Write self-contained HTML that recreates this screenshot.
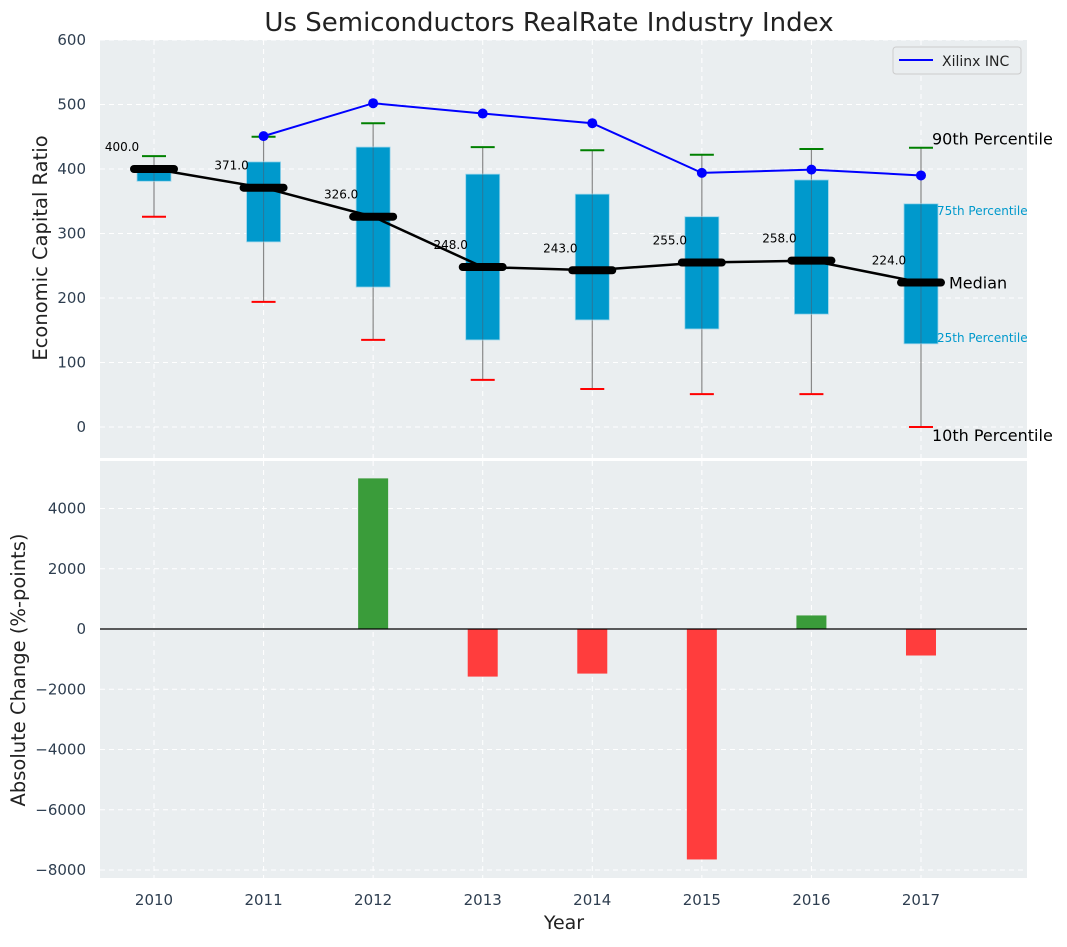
<!DOCTYPE html>
<html><head><meta charset="utf-8">
<style>
body{margin:0;background:#fff;font-family:"Liberation Sans","DejaVu Sans",sans-serif;}
svg text{font-family:"DejaVu Sans","Liberation Sans",sans-serif;}
</style></head>
<body>
<svg id="chart" width="1067" height="942" xmlns="http://www.w3.org/2000/svg"></svg>
<script>
const years = [2010,2011,2012,2013,2014,2015,2016,2017];
const p10 = [326,194,135,73,59,51,51,0];
const p25 = [381,287,217,135,166,152,175,129];
const medians = [400,371,326,248,243,255,258,224];
const p75 = [405,411,434,392,361,326,383,346];
const p90 = [420,450,471,434,429,422,431,433];
const xilinxYears = [2011,2012,2013,2014,2015,2016,2017];
const xilinx = [451,502,486,471,394,399,390];
const changes = [0,0,5000,-1580,-1480,-7650,450,-880];
const topTicks = [0,100,200,300,400,500,600];
const botTicks = [-8000,-6000,-4000,-2000,0,2000,4000];

const NS="http://www.w3.org/2000/svg";
const svg=document.getElementById('chart');
function el(tag,attrs,parent){const e=document.createElementNS(NS,tag);for(const k in attrs)e.setAttribute(k,attrs[k]);(parent||svg).appendChild(e);return e;}
const L=100,R=1027;
const xs=y=>154+(y-2010)*109.57;
const yTop=v=>427-v*0.645;
const yBot=v=>629-v*0.030125;

let bg=el('rect',{x:L,y:40,width:R-L,height:418,fill:'#eaeef0'});

let bg2=el('rect',{x:L,y:461,width:R-L,height:417,fill:'#eaeef0'});


years.forEach(y=>{
  el('line',{x1:xs(y),x2:xs(y),y1:40,y2:458,stroke:'#fff','stroke-dasharray':'5,4','stroke-width':1});
  el('line',{x1:xs(y),x2:xs(y),y1:461,y2:878,stroke:'#fff','stroke-dasharray':'5,4','stroke-width':1});
  let t=el('text',{x:xs(y),y:905,'text-anchor':'middle','font-size':15,fill:'#2e3e50'});t.textContent=y;
  
});
topTicks.forEach(v=>{
  el('line',{x1:L,x2:R,y1:yTop(v),y2:yTop(v),stroke:'#fff','stroke-dasharray':'5,4'});
  let t=el('text',{x:86,y:yTop(v)+5,'text-anchor':'end','font-size':15,fill:'#2e3e50'});t.textContent=v;
  
});
botTicks.forEach(v=>{
  el('line',{x1:L,x2:R,y1:yBot(v),y2:yBot(v),stroke:'#fff','stroke-dasharray':'5,4'});
  let t=el('text',{x:86,y:yBot(v)+5,'text-anchor':'end','font-size':15,fill:'#2e3e50'});t.textContent=v<0?'\u2212'+(-v):v;
  
});

years.forEach((y,i)=>{
  const x=xs(y);
  let w=el('line',{x1:x,x2:x,y1:yTop(p10[i]),y2:yTop(p90[i]),stroke:'#888','stroke-width':1.2});
  
  let b=el('rect',{x:x-17,y:yTop(p75[i]),width:34,height:yTop(p25[i])-yTop(p75[i]),fill:'#0099cc',stroke:'#9ad4ea','stroke-width':0.8});
  
  el('line',{x1:x,x2:x,y1:yTop(p75[i]),y2:yTop(p25[i]),stroke:'#556','stroke-width':1,opacity:0.5});
  let c1=el('line',{x1:x-12,x2:x+12,y1:yTop(p90[i]),y2:yTop(p90[i]),stroke:'green','stroke-width':2});
  
  let c2=el('line',{x1:x-12,x2:x+12,y1:yTop(p10[i]),y2:yTop(p10[i]),stroke:'red','stroke-width':2});
  
});
let pts=years.map((y,i)=>xs(y)+','+yTop(medians[i])).join(' ');
let ml=el('polyline',{points:pts,fill:'none',stroke:'#000','stroke-width':2.5});

years.forEach((y,i)=>{
  const x=xs(y),yy=yTop(medians[i]);
  let m=el('line',{x1:x-20,x2:x+20,y1:yy,y2:yy,stroke:'#000','stroke-width':8,'stroke-linecap':'round'});
  
  let t=el('text',{x:x-32,y:yy-18,'text-anchor':'middle','font-size':12,fill:'#000'});t.textContent=medians[i].toFixed(1);
  
});
let xp=xilinxYears.map((y,i)=>xs(y)+','+yTop(xilinx[i])).join(' ');
let xl=el('polyline',{points:xp,fill:'none',stroke:'blue','stroke-width':2});

xilinxYears.forEach((y,i)=>{
  let c=el('circle',{cx:xs(y),cy:yTop(xilinx[i]),r:5,fill:'blue'});
  
});
const last=years.length-1,lx=xs(years[last]);
function ann(txt,x,y,size,col,name){let t=el('text',{x:x,y:y,'font-size':size,fill:col});t.textContent=txt;}
ann('90th Percentile',lx+11,yTop(p90[last])-3,16,'#000','p90-annotation');
ann('75th Percentile',lx+16,yTop(p75[last])+11,12,'#0099cc','p75-annotation');
ann('Median',lx+28,yTop(medians[last])+6,16,'#000','median-annotation');
ann('25th Percentile',lx+16,yTop(p25[last])-2,12,'#0099cc','p25-annotation');
ann('10th Percentile',lx+11,yTop(p10[last])+14,16,'#000','p10-annotation');

let lg=el('rect',{x:893,y:47,width:128,height:27,fill:'#eaeef0',stroke:'#ccc',rx:3});

el('line',{x1:899,x2:933,y1:60,y2:60,stroke:'blue','stroke-width':2});
ann('Xilinx INC',942,66,14,'#222','legend-entry-xilinx');

years.forEach((y,i)=>{
  const v=changes[i]; if(v===0)return;
  const y0=yBot(0),y1=yBot(v);
  let b=el('rect',{x:xs(y)-15,y:Math.min(y0,y1),width:30,height:Math.abs(y1-y0),fill:v>0?'#3a9c3a':'#ff3d3d'});
  
});
let zl=el('line',{x1:L,x2:R,y1:yBot(0),y2:yBot(0),stroke:'#000','stroke-width':1.2});


let tt=el('text',{x:549,y:31,'text-anchor':'middle','font-size':26,fill:'#222'});tt.textContent='Us Semiconductors RealRate Industry Index';

let xt=el('text',{x:564,y:929,'text-anchor':'middle','font-size':19,fill:'#222'});xt.textContent='Year';

let y1t=el('text',{x:0,y:0,'text-anchor':'middle','font-size':19.5,fill:'#222',transform:'translate(47,248) rotate(-90)'});y1t.textContent='Economic Capital Ratio';

let y2t=el('text',{x:0,y:0,'text-anchor':'middle','font-size':19.5,fill:'#222',transform:'translate(25,670) rotate(-90)'});y2t.textContent='Absolute Change (%-points)';

</script>
</body></html>
